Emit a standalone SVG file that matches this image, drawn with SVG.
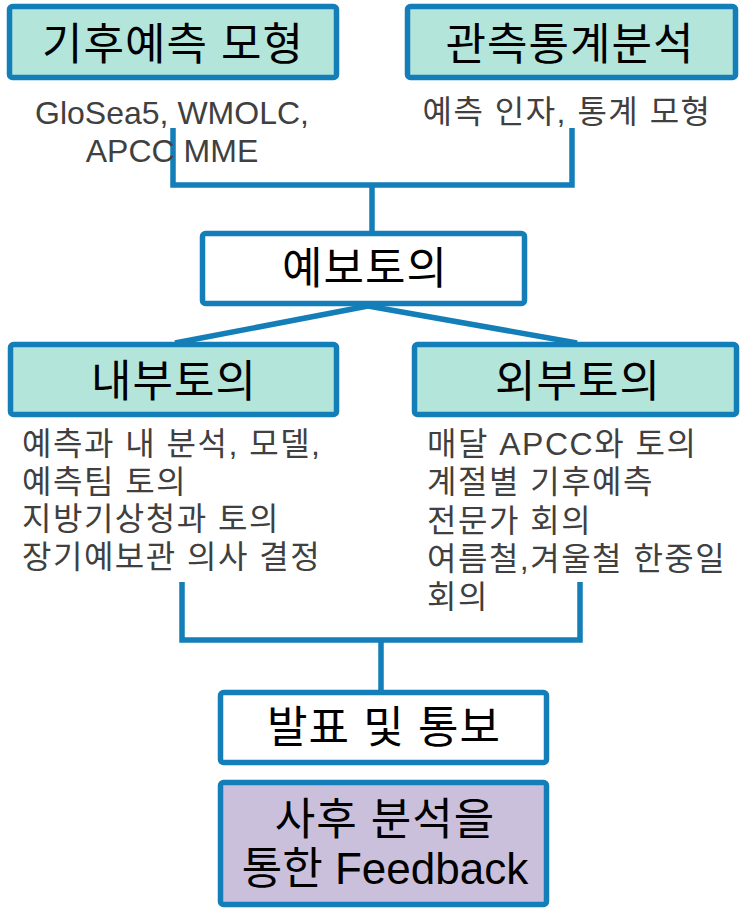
<svg xmlns="http://www.w3.org/2000/svg" width="741" height="908" viewBox="0 0 741 908">
<style>
.box{stroke:#137EB8;stroke-width:5.5}
.teal{fill:#B3E5DB}
.white{fill:#FFFFFF}
.purple{fill:#CBC0DB}
.title{font-family:"Liberation Sans","Noto Sans CJK KR",sans-serif;font-size:44px;letter-spacing:1px;fill:#000;text-anchor:middle}
.body{font-family:"Liberation Sans","Noto Sans CJK KR",sans-serif;font-size:32px;letter-spacing:1.5px;fill:#404040}
.lat{letter-spacing:0}
.mid{text-anchor:middle}
.con{fill:none;stroke:#137EB8;stroke-width:5.5}
</style>
<rect width="741" height="908" fill="#FFFFFF"/>
<g id="connectors">
<polyline class="con" points="173,128 173,185 572,185 572,128"/>
<line class="con" x1="372" y1="185" x2="372" y2="232"/>
<line class="con" x1="368" y1="306" x2="175" y2="343"/>
<line class="con" x1="368" y1="306" x2="577" y2="343"/>
<polyline class="con" points="182,582 182,640 580,640 580,582"/>
<line class="con" x1="381" y1="640" x2="381" y2="690"/>
</g>
<g id="node-model">
<rect class="box teal" x="9.5" y="6.5" width="327" height="71" rx="3"/>
<text class="title" x="173" y="60">기후예측 모형</text>
<text class="body lat mid" x="172" y="124">GloSea5, WMOLC,</text>
<text class="body lat mid" x="172" y="162">APCC MME</text>
</g>
<g id="node-obs">
<rect class="box teal" x="407.5" y="6.5" width="328" height="71" rx="3"/>
<text class="title" x="570" y="60">관측통계분석</text>
<text class="body mid" x="567" y="123">예측 인자, 통계 모형</text>
</g>
<g id="node-forecast">
<rect class="box white" x="202.5" y="233.5" width="322" height="70" rx="3"/>
<text class="title" x="365" y="284">예보토의</text>
</g>
<g id="node-internal">
<rect class="box teal" x="10.5" y="344.5" width="326" height="70" rx="3"/>
<text class="title" x="174" y="397">내부토의</text>
<text class="body" x="22" y="455">예측과 내 분석, 모델,</text>
<text class="body" x="22" y="493">예측팀 토의</text>
<text class="body" x="22" y="530">지방기상청과 토의</text>
<text class="body" x="22" y="568">장기예보관 의사 결정</text>
</g>
<g id="node-external">
<rect class="box teal" x="414.5" y="344.5" width="322" height="70" rx="3"/>
<text class="title" x="578" y="397">외부토의</text>
<text class="body" x="427" y="455">매달 APCC와 토의</text>
<text class="body" x="427" y="493">계절별 기후예측</text>
<text class="body" x="427" y="532">전문가 회의</text>
<text class="body" x="427" y="570">여름철,겨울철 한중일</text>
<text class="body" x="427" y="608">회의</text>
</g>
<g id="node-announce">
<rect class="box white" x="220.5" y="692.5" width="326" height="70" rx="3"/>
<text class="title" x="384" y="743">발표 및 통보</text>
</g>
<g id="node-feedback">
<rect class="box purple" x="220.5" y="782.5" width="326" height="122" rx="3"/>
<text class="title" x="385" y="835">사후 분석을</text>
<text class="title" x="385" y="884" style="letter-spacing:0">통한 Feedback</text>
</g>
</svg>
